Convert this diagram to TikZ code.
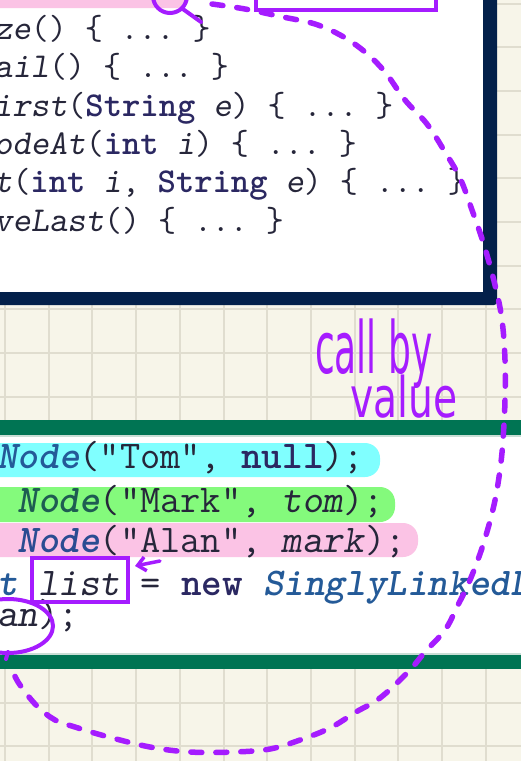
\documentclass[tikz,border=0pt]{standalone}
\usepackage{fontspec}
\newfontfamily\handfont{DejaVu Sans}
\usetikzlibrary{arrows.meta}
\definecolor{bgc}{HTML}{F7F5E9}
\definecolor{gridc}{HTML}{E0DDCF}
\definecolor{navy}{HTML}{03204A}
\definecolor{barg}{HTML}{007453}
\definecolor{barline}{HTML}{C9DED5}
\definecolor{pen}{HTML}{A51CFF}
\definecolor{hlpink}{HTML}{FBC3E5}
\definecolor{hlcyan}{HTML}{80FFFF}
\definecolor{hlgreen}{HTML}{84FA7C}
\definecolor{codetxt}{HTML}{26263A}
\definecolor{kwnavy}{HTML}{2B2862}
\definecolor{clsblue}{HTML}{245A98}
\definecolor{clsgreen}{HTML}{1E5C52}
\definecolor{clspink}{HTML}{2A4C92}
\newcommand\kwd[1]{\textbf{\color{kwnavy}#1}}
\newcommand\cls[2]{\textbf{\textsl{\color{#1}#2}}}
\newcommand\dq{\char"22\relax}
\tikzset{
  codetop/.style={anchor=base west, inner sep=0pt, text=codetxt,
    font=\ttfamily\frenchspacing\fontsize{34.9}{40}\selectfont},
  codebot/.style={anchor=base west, inner sep=0pt, text=codetxt,
    font=\ttfamily\frenchspacing\fontsize{39.24}{44}\selectfont},
  penline/.style={draw=pen, line width=4pt},
  pendash/.style={pen, line width=5.5pt, line cap=round, dash pattern=on 11pt off 14pt},
  hand/.style={anchor=base west, inner sep=0pt, text=pen}
}
\begin{document}
\begin{tikzpicture}[x=1pt,y=-1pt]
\useasboundingbox (0,0) rectangle (521,761);
\clip (0,0) rectangle (521,761);
% paper background with grid
\fill[bgc] (0,0) rectangle (521,761);
\foreach \i in {0,...,11} \draw[gridc, line width=2pt] ({5+43.7*\i},0) -- ++(0,761);
\foreach \j in {0,...,17} \draw[gridc, line width=2pt] (0,{3.5+43.7*\j}) -- ++(521,0);

% top code box
\fill[navy, rounded corners=3pt] (-20,-20) rectangle (497,305);
\fill[white] (-20,-20) rectangle (483,292);
\fill[hlpink, rounded corners=10pt] (-30,-30) rectangle (187,8);

\node[codetop] (t1) at (-6,39)  {\textsl{ze}() \{ ... \}};
\node[codetop] (t2) at (-6,77)  {\textsl{ail}() \{ ... \}};
\node[codetop] (t3) at (-6,116) {\textsl{irst}(\kwd{String} \textsl{e}) \{ ... \}};
\node[codetop] (t4) at (-6,154) {\textsl{odeAt}(\kwd{int} \textsl{i}) \{ ... \}};
\node[codetop] (t5) at (-6,192) {\textsl{t}(\kwd{int} \textsl{i}, \kwd{String} \textsl{e}) \{ ... \}};
\node[codetop] (t6) at (-6,231) {\textsl{veLast}() \{ ... \}};

% bottom code box
\fill[white] (0,434) rectangle (521,655);
\fill[barg] (0,420) rectangle (521,434.5);
\fill[barline] (0,434.5) rectangle (521,436.5);
\fill[barline] (0,653) rectangle (521,655);
\fill[barg] (0,655) rectangle (521,669);

\fill[hlcyan, rounded corners=15pt] (-30,443) rectangle (380,477);
\fill[hlgreen, rounded corners=15pt] (-30,487) rectangle (395,522);
\fill[hlpink, rounded corners=15pt] (-30,523) rectangle (418,557);

\node[codebot] (b1) at (-3,468) {\cls{clsblue}{Node}(\dq Tom\dq, \kwd{null});};
\node[codebot] (b2) at (-3,512) {\hphantom{N}\cls{clsgreen}{Node}(\dq Mark\dq, \textsl{tom});};
\node[codebot] (b3) at (-3,552) {\hphantom{N}\cls{clspink}{Node}(\dq Alan\dq, \textsl{mark});};
\node[codebot] (b4) at (-3,595) {\cls{clsblue}{t} \textsl{list} = \kwd{new} \cls{clsblue}{SinglyLinkedList}};
\node[codebot] (b5) at (-3,626) {\textsl{an});};

% handwritten annotations
\node[penline, circle, minimum size=34pt, inner sep=0pt] (circ) at (170,-4) {};
\coordinate (circtail) at (201,22);
\draw[pen, line width=4pt, line cap=round] (circ.south east) -- (circtail);
\node[penline, rectangle, minimum width=180pt, minimum height=60pt, inner sep=0pt] (topbox) at (346,-20) {};

\node[penline, rectangle, minimum width=96pt, minimum height=44pt, inner sep=0pt] (listbox) at (80,580) {};
\coordinate (arrtail) at (160,561);
\draw[pen, line width=3.5pt, line cap=round, -{Straight Barb[length=8pt,width=14pt,line width=3.5pt]}] (arrtail) -- ([xshift=5pt,yshift=-10pt]listbox.north east);

\draw[pen, line width=4pt] (8,626) ellipse [x radius=45, y radius=27];
\coordinate (elltail) at (6,659);
\draw[pen, line width=4pt, line cap=round] (8,652) -- (elltail);

\node[hand, font=\handfont\fontsize{72}{72}\selectfont, xscale=0.5] (callby) at (315,373) {call by};
\node[hand, font=\handfont\fontsize{56}{56}\selectfont, xscale=0.7] (value) at (350,417) {value};

\draw[pendash] plot[smooth, tension=0.6] coordinates {
 (212,4) (245,9) (283,17) (315,24) (342,36) (365,52) (385,72) (405,100) (427,124)
 (445,152) (460,178) (472,210) (484,245) (495,285) (502,320) (505,360) (505,400)
 (503,440) (500,470) (494,505) (483,545) (470,580) (457,607) (445,630) (425,652)
 (408,672) (380,698) (356,712) (330,728) (300,740) (270,749) (234,752) (190,752)
 (150,747) (105,736) (75,727) (55,720) (36,705) (18,682) (12,668)};
\end{tikzpicture}
\end{document}
